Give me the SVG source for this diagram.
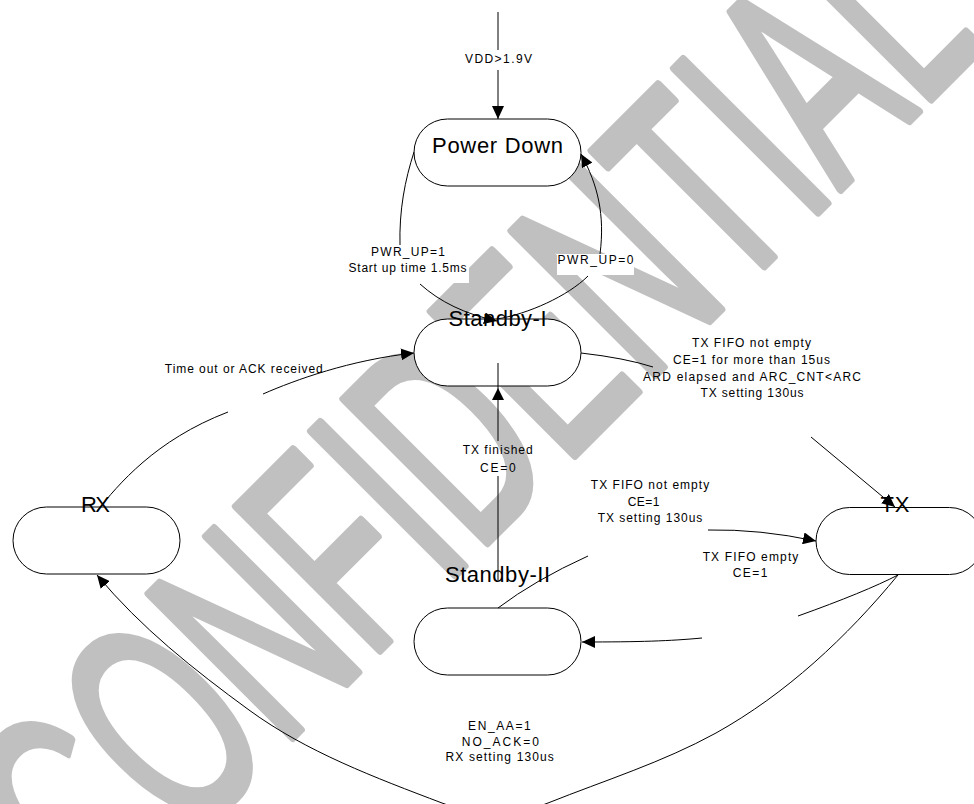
<svg xmlns="http://www.w3.org/2000/svg" width="974" height="804" viewBox="0 0 974 804">
<style>
.node{fill:#fff;stroke:#000;stroke-width:1}
.title{font-family:"Liberation Sans",Arial,sans-serif;font-size:22px;fill:#000;text-anchor:middle}
.lbl{font-family:"Liberation Sans",Arial,sans-serif;font-size:12px;fill:#000;text-anchor:middle}
.edge{fill:none;stroke:#000;stroke-width:1}
.bg{fill:#fff}
.wm{font-family:"Liberation Sans",Arial,sans-serif;font-size:295px;fill:#c0c0c0;stroke:#c0c0c0;stroke-width:7px;stroke-linejoin:round;vector-effect:non-scaling-stroke}
</style>
<defs>
<marker id="arr" markerUnits="userSpaceOnUse" markerWidth="14" markerHeight="12" refX="13" refY="6" orient="auto"><path d="M0,0L13,6L0,12z" fill="#000"/></marker>
</defs>
<rect width="974" height="804" fill="#fff"/>
<text id="watermark" class="wm" transform="translate(100,930) rotate(-45) scale(0.58,1)">CONFIDENTIAL</text>
<g id="nodes">
<g id="power-down"><rect class="node" x="414" y="119" width="167" height="67" rx="33.5"/><text class="title" x="497.5" y="153" textLength="131">Power Down</text></g>
<g id="standby-1"><rect class="node" x="414" y="319" width="167" height="67" rx="33.5"/><text class="title" x="497.5" y="326" textLength="98">Standby-I</text></g>
<g id="standby-2"><rect class="node" x="414" y="608" width="167" height="67" rx="33.5"/><text class="title" x="497.5" y="581.5" textLength="105">Standby-II</text></g>
<g id="rx"><rect class="node" x="13" y="507" width="167" height="67" rx="33.5"/><text class="title" x="95.5" y="511.5" textLength="29">RX</text></g>
<g id="tx"><rect class="node" x="816" y="507.5" width="167" height="67" rx="33.5"/><text class="title" x="895" y="511.5" textLength="29">TX</text></g>
</g>
<g id="connectors">
<g id="e-vdd"><path class="edge" d="M498,12V50"/><path class="edge" d="M498,70V119" marker-end="url(#arr)"/><text class="lbl" x="498.5" y="63" textLength="67">VDD&gt;1.9V</text></g>
<g id="e-pwrup1"><path class="edge" d="M414,152C405,180 399,210 400,246"/><path class="edge" d="M420,284C440,302 465,314 497,321" marker-end="url(#arr)"/><rect class="bg" x="347" y="245" width="122" height="38"/><text class="lbl" x="408" y="256" textLength="74">PWR_UP=1</text><text class="lbl" x="407.5" y="272" textLength="118">Start up time 1.5ms</text></g>
<g id="e-pwrup0"><path class="edge" d="M497,319C528,314 568,296 588,276"/><path class="edge" d="M600,254C605,215 598,185 581,154" marker-end="url(#arr)"/><rect class="bg" x="557" y="254" width="77" height="21"/><text class="lbl" x="595.5" y="263.5" textLength="76">PWR_UP=0</text></g>
<g id="e-sb1-tx"><path class="edge" d="M581,353Q625,358 653,367"/><path class="edge" d="M811,437L895,507" marker-end="url(#arr)"/><text class="lbl" x="751.5" y="347" textLength="119">TX FIFO not empty</text><text class="lbl" x="751.5" y="363.5" textLength="157">CE=1 for more than 15us</text><text class="lbl" x="752" y="380.5" textLength="218">ARD elapsed and ARC_CNT&lt;ARC</text><text class="lbl" x="752" y="397" textLength="103">TX setting 130us</text></g>
<g id="e-sb2-sb1"><path class="edge" d="M498,580V476"/><path class="edge" d="M498,441V363"/><path d="M498,388L504,400L492,400z" fill="#000"/><text class="lbl" x="497.7" y="454" textLength="70">TX finished</text><text class="lbl" x="497.8" y="471.7" textLength="35.7">CE=0</text></g>
<g id="e-sb2-tx"><path class="edge" d="M498,608Q535,580 588,556"/><path class="edge" d="M708,530Q760,529 816,541" marker-end="url(#arr)"/><text class="lbl" x="650" y="489.3" textLength="118.3">TX FIFO not empty</text><text class="lbl" x="643.5" y="506" textLength="31.7">CE=1</text><text class="lbl" x="650" y="522.3" textLength="104.7">TX setting 130us</text></g>
<g id="e-tx-sb2"><path class="edge" d="M898,575Q865,592 798,616"/><path class="edge" d="M702,638C670,641 640,642 582,642" marker-end="url(#arr)"/><text class="lbl" x="750.5" y="560.7" textLength="95.7">TX FIFO empty</text><text class="lbl" x="750" y="577.3" textLength="34.7">CE=1</text></g>
<g id="e-tx-rx"><path class="edge" d="M898,575C847,637 786,694 716,733C662.5,762.4 604.6,780.4 548,803C515.5,816 474.7,815.4 442,803C375.6,777.8 306.3,751.9 249,710C194.1,669.9 140.5,627.4 97,575" marker-end="url(#arr)"/><text class="lbl" x="499.4" y="730.3" textLength="62.8">EN_AA=1</text><text class="lbl" x="500.3" y="745.5" textLength="77.2">NO_ACK=0</text><text class="lbl" x="499.7" y="761" textLength="108.3">RX setting 130us</text></g>
<g id="e-rx-sb1"><path class="edge" d="M97,511C118,485 155,440 228,412"/><path class="edge" d="M263,394C295,380 350,360 414,353" marker-end="url(#arr)"/><text class="lbl" x="243.8" y="372.7" textLength="158">Time out or ACK received</text></g>
</g>
</svg>
